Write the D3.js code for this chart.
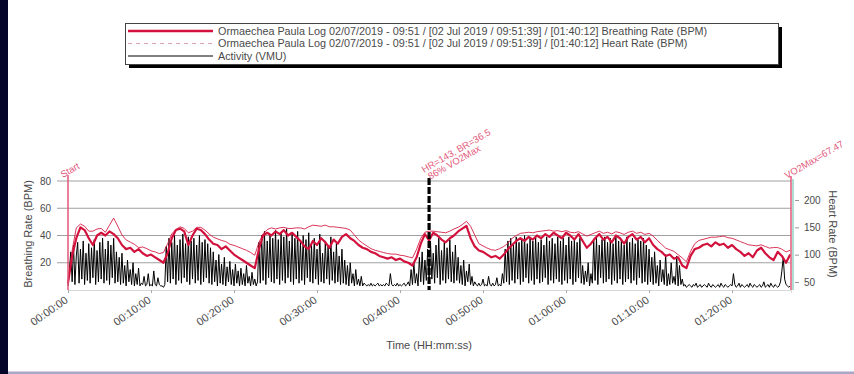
<!DOCTYPE html>
<html>
<head>
<meta charset="utf-8">
<script src="https://cdn.jsdelivr.net/npm/d3@7"></script>
<style>
  html, body { margin: 0; padding: 0; background: #ffffff; }
  svg { display: block; font-family: "Liberation Sans", Arial, sans-serif; }
</style>
</head>
<body>
<svg id="chart" width="854" height="374"></svg>
<script>
// ---- Session data (time in minutes from start) ----
const sessionEndMin = 87.1;
const brStepMin = 0.5;     // breathing-rate sample interval
const hrStepMin = 0.5;     // heart-rate sample interval
const actStepMin = 1 / 6;  // activity sample interval (10 s)

// Breathing rate (BPM), left axis
const breathingRate = [
  5,25,38,46,44,38,33,40,42,40,
  43,41,38,33,30,31,28,30,27,25,
  26,24,22,20,27,38,44,45,43,33,
  40,45,44,41,37,34,33,30,32,29,
  26,24,22,20,18,16,30,40,42,40,
  43,41,44,40,42,39,36,32,30,36,
  33,38,35,31,37,34,39,41,38,36,
  33,31,30,28,27,25,24,23,24,22,
  23,21,20,18,24,34,41,36.5,42,40,
  37,35,38,40,43,45,47,38,32,29,
  28,26,24,25,23,26,30,33,36,38,
  36,39,37,40,38,41,39,42,40,38,
  42,40,37,41,36,31,34,38,41,37,
  39,35,40,38,34,39,41,37,39,35,
  38,33,30,28,25,26,23,24,18,16,
  25,30,31,33,34,32,35,33,34,31,
  33,30,28,25,27,24,29,31,27,24,
  22,28,25,20,26
];

// Heart rate (BPM), right axis
const heartRate = [
  45,108,149,156,152,143,143,147,148,141,
  154,167,152,136,127,123,119,113,114,111,
  107,105,102,104,120,138,146,151,148,140,
  143,150,150,145,138,132,129,126,124,119,
  117,114,111,108,104,99,122,138,146,149,
  147,149,150,148,148,149,149,147,151,154,
  153,152,154,151,151,150,149,148,145,136,
  127,121,116,111,108,106,104,102,101,101,
  99,98,96,94,110,130,141,143,143,142,
  141,140,143,147,150,155,161,152,136,120,
  116,112,109,108,111,115,121,130,135,139,
  140,141,140,142,143,144,145,143,144,142,
  144,141,140,142,138,134,137,140,143,139,
  141,138,142,140,137,141,143,139,141,137,
  139,134,126,119,112,109,106,100,94,87,
  106,120,126,128,130,132,132,133,134,131,
  130,127,124,121,118,117,116,118,115,112,
  113,113,110,105,108
];

// Activity (VMU), drawn on the left scale
const activity = [
  3,15,28,6,33,4,25,35,5,30,8,36,4,27,7,34,5,31,9,37,
  4,29,6,35,8,38,5,30,7,36,4,33,9,38,5,28,6,24,4,27,
  5,18,3,22,6,15,4,20,3,12,4,16,3,5,4,10,3,4,12,3,
  4,3,14,4,3,9,4,3,3,2,4,32,6,38,5,35,8,40,4,33,
  7,37,5,41,9,34,6,39,4,36,8,38,5,33,7,40,4,35,6,37,
  9,34,5,31,4,28,6,22,3,26,5,19,4,24,3,17,6,21,4,15,
  3,19,5,14,3,16,4,12,3,18,5,10,3,13,4,8,3,6,35,5,
  40,7,43,4,36,9,41,6,38,5,44,8,37,4,42,7,39,5,45,9,
  36,6,41,4,38,8,43,5,35,7,40,4,37,9,42,6,33,5,38,8,
  30,4,41,6,27,5,36,8,32,4,39,7,28,5,34,6,25,4,30,5,
  22,4,18,3,20,5,12,3,15,4,8,3,10,3,5,4,3,4,3,5,
  3,4,3,4,5,3,4,3,4,3,5,4,3,12,4,3,4,3,5,3,
  4,3,4,5,3,4,6,3,15,4,20,5,12,3,24,6,28,4,22,7,
  30,6,36,8,27,5,33,9,38,4,29,7,35,5,31,8,37,6,28,5,
  33,7,24,5,18,4,22,3,14,6,19,4,10,3,6,4,3,5,3,4,
  8,3,4,3,10,4,3,5,3,4,9,3,4,3,12,5,30,6,36,4,
  38,7,33,5,39,8,35,4,37,6,40,9,34,5,38,7,36,4,39,8,
  35,5,37,6,33,9,39,4,36,7,38,5,34,8,39,6,36,4,38,7,
  33,5,39,8,36,4,37,6,35,9,38,5,18,4,14,6,20,3,12,5,
  36,7,38,4,33,9,37,5,39,6,35,8,38,4,34,7,39,5,36,8,
  37,4,33,6,39,8,35,5,38,7,34,4,37,9,36,5,38,6,33,4,
  30,6,24,4,28,5,18,3,22,6,15,4,26,3,12,4,20,5,10,4,
  25,3,18,4,8,3,4,2,3,4,3,2,4,3,5,2,3,4,2,3,
  4,3,2,5,3,2,4,3,2,3,4,2,5,3,2,4,3,2,3,4,
  3,12,4,2,3,5,2,4,3,2,3,4,2,5,3,2,4,3,2,3,
  4,2,3,6,2,3,4,2,5,3,2,4,3,2,3,6,14,24,8,4,
  3,2,3
];

const timeTicks = [0, 10, 20, 30, 40, 50, 60, 70, 80];
const timeTickLabels = ["00:00:00","00:10:00","00:20:00","00:30:00","00:40:00","00:50:00","01:00:00","01:10:00","01:20:00"];
const brTicks = [20, 40, 60, 80];
const hrTicks = [50, 100, 150, 200];

const legendLabels = [
  "Ormaechea Paula Log 02/07/2019 - 09:51 / [02 Jul 2019 / 09:51:39] / [01:40:12] Breathing Rate (BPM)",
  "Ormaechea Paula Log 02/07/2019 - 09:51 / [02 Jul 2019 / 09:51:39] / [01:40:12] Heart Rate (BPM)",
  "Activity (VMU)"
];

// Event markers
const startMin = 0;
const peakMin = 43.5;          // HR=143, BR=36.5 sample
const peakLabels = ["HR=143, BR=36.5", "86% VO2Max"];
const vo2Label = "VO2Max=67.47";

// ---- Drawing ----
const svg = d3.select("#chart");
const RED = "#d2123c";
const PINK = "#e2577a";
const TEXT = "#4a4a4a";
const FONT = "Liberation Sans, Arial, sans-serif";

// page frame
svg.append("rect").attr("x", 0).attr("y", 0).attr("width", 854).attr("height", 374).attr("fill", "#ffffff");
svg.append("rect").attr("x", 0).attr("y", 0).attr("width", 8).attr("height", 374).attr("fill", "#05052a");
svg.append("rect").attr("x", 8).attr("y", 371.5).attr("width", 846).attr("height", 3).attr("fill", "#aaa6c8");

const x = d3.scaleLinear().domain([0, sessionEndMin]).range([68, 791]);
const yL = d3.scaleLinear().domain([0, 80]).range([290, 181]);
const yR = d3.scaleLinear().domain([50, 200]).range([282, 200]);

// gridlines
svg.append("g").selectAll("line").data(brTicks).join("line")
  .attr("x1", 57).attr("x2", x(sessionEndMin))
  .attr("y1", d => yL(d)).attr("y2", d => yL(d))
  .attr("stroke", "#a0a0a0").attr("stroke-width", 1);

// left axis
const gL = svg.append("g").attr("transform", `translate(${x(0)},0)`)
  .call(d3.axisLeft(yL).tickValues(brTicks).tickSize(0).tickPadding(17));
gL.select(".domain").remove();
gL.selectAll("text").attr("fill", TEXT).style("font-size", "10px").attr("font-family", FONT);

// right axis
const gR = svg.append("g").attr("transform", `translate(795,0)`)
  .call(d3.axisRight(yR).tickValues(hrTicks).tickSize(4).tickPadding(5));
gR.select(".domain").remove();
gR.selectAll("line").attr("stroke", "#999");
gR.selectAll("text").attr("fill", TEXT).style("font-size", "10px").attr("font-family", FONT);

// bottom axis
const gB = svg.append("g").attr("transform", `translate(0,290)`)
  .call(d3.axisBottom(x).tickValues(timeTicks).tickSize(3)
    .tickFormat((d, i) => timeTickLabels[i]));
gB.select(".domain").attr("stroke", "#d8d8d8");
gB.selectAll("line").attr("stroke", "#aaa");
gB.selectAll("text")
  .attr("fill", TEXT).style("font-size", "11px").attr("font-family", FONT)
  .attr("text-anchor", "end").attr("dy", "0.3em")
  .attr("transform", "translate(-5,4) rotate(-35)");

// axis titles
svg.append("text").attr("transform", "translate(32,234) rotate(-90)")
  .attr("text-anchor", "middle").attr("fill", TEXT).style("font-size", "11px")
  .text("Breathing Rate (BPM)");
svg.append("text").attr("transform", "translate(829,234) rotate(90)")
  .attr("text-anchor", "middle").attr("fill", TEXT).style("font-size", "11px")
  .text("Heart Rate (BPM)");
svg.append("text").attr("x", 429).attr("y", 349)
  .attr("text-anchor", "middle").attr("fill", TEXT).style("font-size", "11px")
  .text("Time (HH:mm:ss)");

// right-edge line
svg.append("line").attr("x1", 793).attr("x2", 793).attr("y1", 179).attr("y2", 290)
  .attr("stroke", "#93d3c3").attr("stroke-width", 1.5);

// series
const activityLine = d3.line().x((d, i) => x(i * actStepMin)).y(d => yL(d));
svg.append("path").datum(activity).attr("d", activityLine)
  .attr("fill", "none").attr("stroke", "#000").attr("stroke-width", 1);

const hrLine = d3.line().x((d, i) => x(i * hrStepMin)).y(d => yR(d));
svg.append("path").datum(heartRate).attr("d", hrLine)
  .attr("fill", "none").attr("stroke", RED).attr("stroke-opacity", 0.85).attr("stroke-width", 1);

const brLine = d3.line().x((d, i) => x(i * brStepMin)).y(d => yL(d));
svg.append("path").datum(breathingRate).attr("d", brLine)
  .attr("fill", "none").attr("stroke", RED).attr("stroke-width", 2.2).attr("stroke-linejoin", "round");

// event markers
svg.append("line").attr("x1", x(startMin)).attr("x2", x(startMin)).attr("y1", 175).attr("y2", 290)
  .attr("stroke", PINK).attr("stroke-width", 1.5);
svg.append("line").attr("x1", x(sessionEndMin)).attr("x2", x(sessionEndMin)).attr("y1", 176).attr("y2", 290)
  .attr("stroke", PINK).attr("stroke-width", 1.5);
svg.append("line").attr("x1", x(peakMin)).attr("x2", x(peakMin)).attr("y1", 178).attr("y2", 290)
  .attr("stroke", "#000").attr("stroke-width", 3.2).attr("stroke-dasharray", "7,2");

// marker captions
const cap = (tx, ty, lines) => {
  const g = svg.append("g").attr("transform", `translate(${tx},${ty}) rotate(-30)`);
  lines.forEach((t, i) => g.append("text").attr("x", i * 2).attr("y", i * 9)
    .attr("fill", PINK).style("font-size", "9.5px").text(t));
};
cap(x(startMin) - 5, 178, ["Start"]);
cap(x(peakMin) - 5, 173, peakLabels);
cap(x(sessionEndMin) - 4, 179, [vo2Label]);

// legend
const lg = svg.append("g");
lg.append("rect").attr("x", 129).attr("y", 27).attr("width", 653).attr("height", 41).attr("fill", "#000");
lg.append("rect").attr("x", 125.5).attr("y", 23.5).attr("width", 653).attr("height", 41)
  .attr("fill", "#fff").attr("stroke", "#444").attr("stroke-width", 1);
const legendStyles = [
  { color: RED, width: 2.5, dash: null },
  { color: "#d9a0ae", width: 1, dash: "4,4" },
  { color: "#000", width: 1, dash: null }
];
legendLabels.forEach((t, i) => {
  const yy = 31 + i * 12.5;
  lg.append("line").attr("x1", 128).attr("x2", 213).attr("y1", yy).attr("y2", yy)
    .attr("stroke", legendStyles[i].color).attr("stroke-width", legendStyles[i].width)
    .attr("stroke-dasharray", legendStyles[i].dash);
  lg.append("text").attr("x", 218).attr("y", yy + 3.8)
    .attr("fill", TEXT).style("font-size", "10.8px").text(t);
});
</script>
</body>
</html>
